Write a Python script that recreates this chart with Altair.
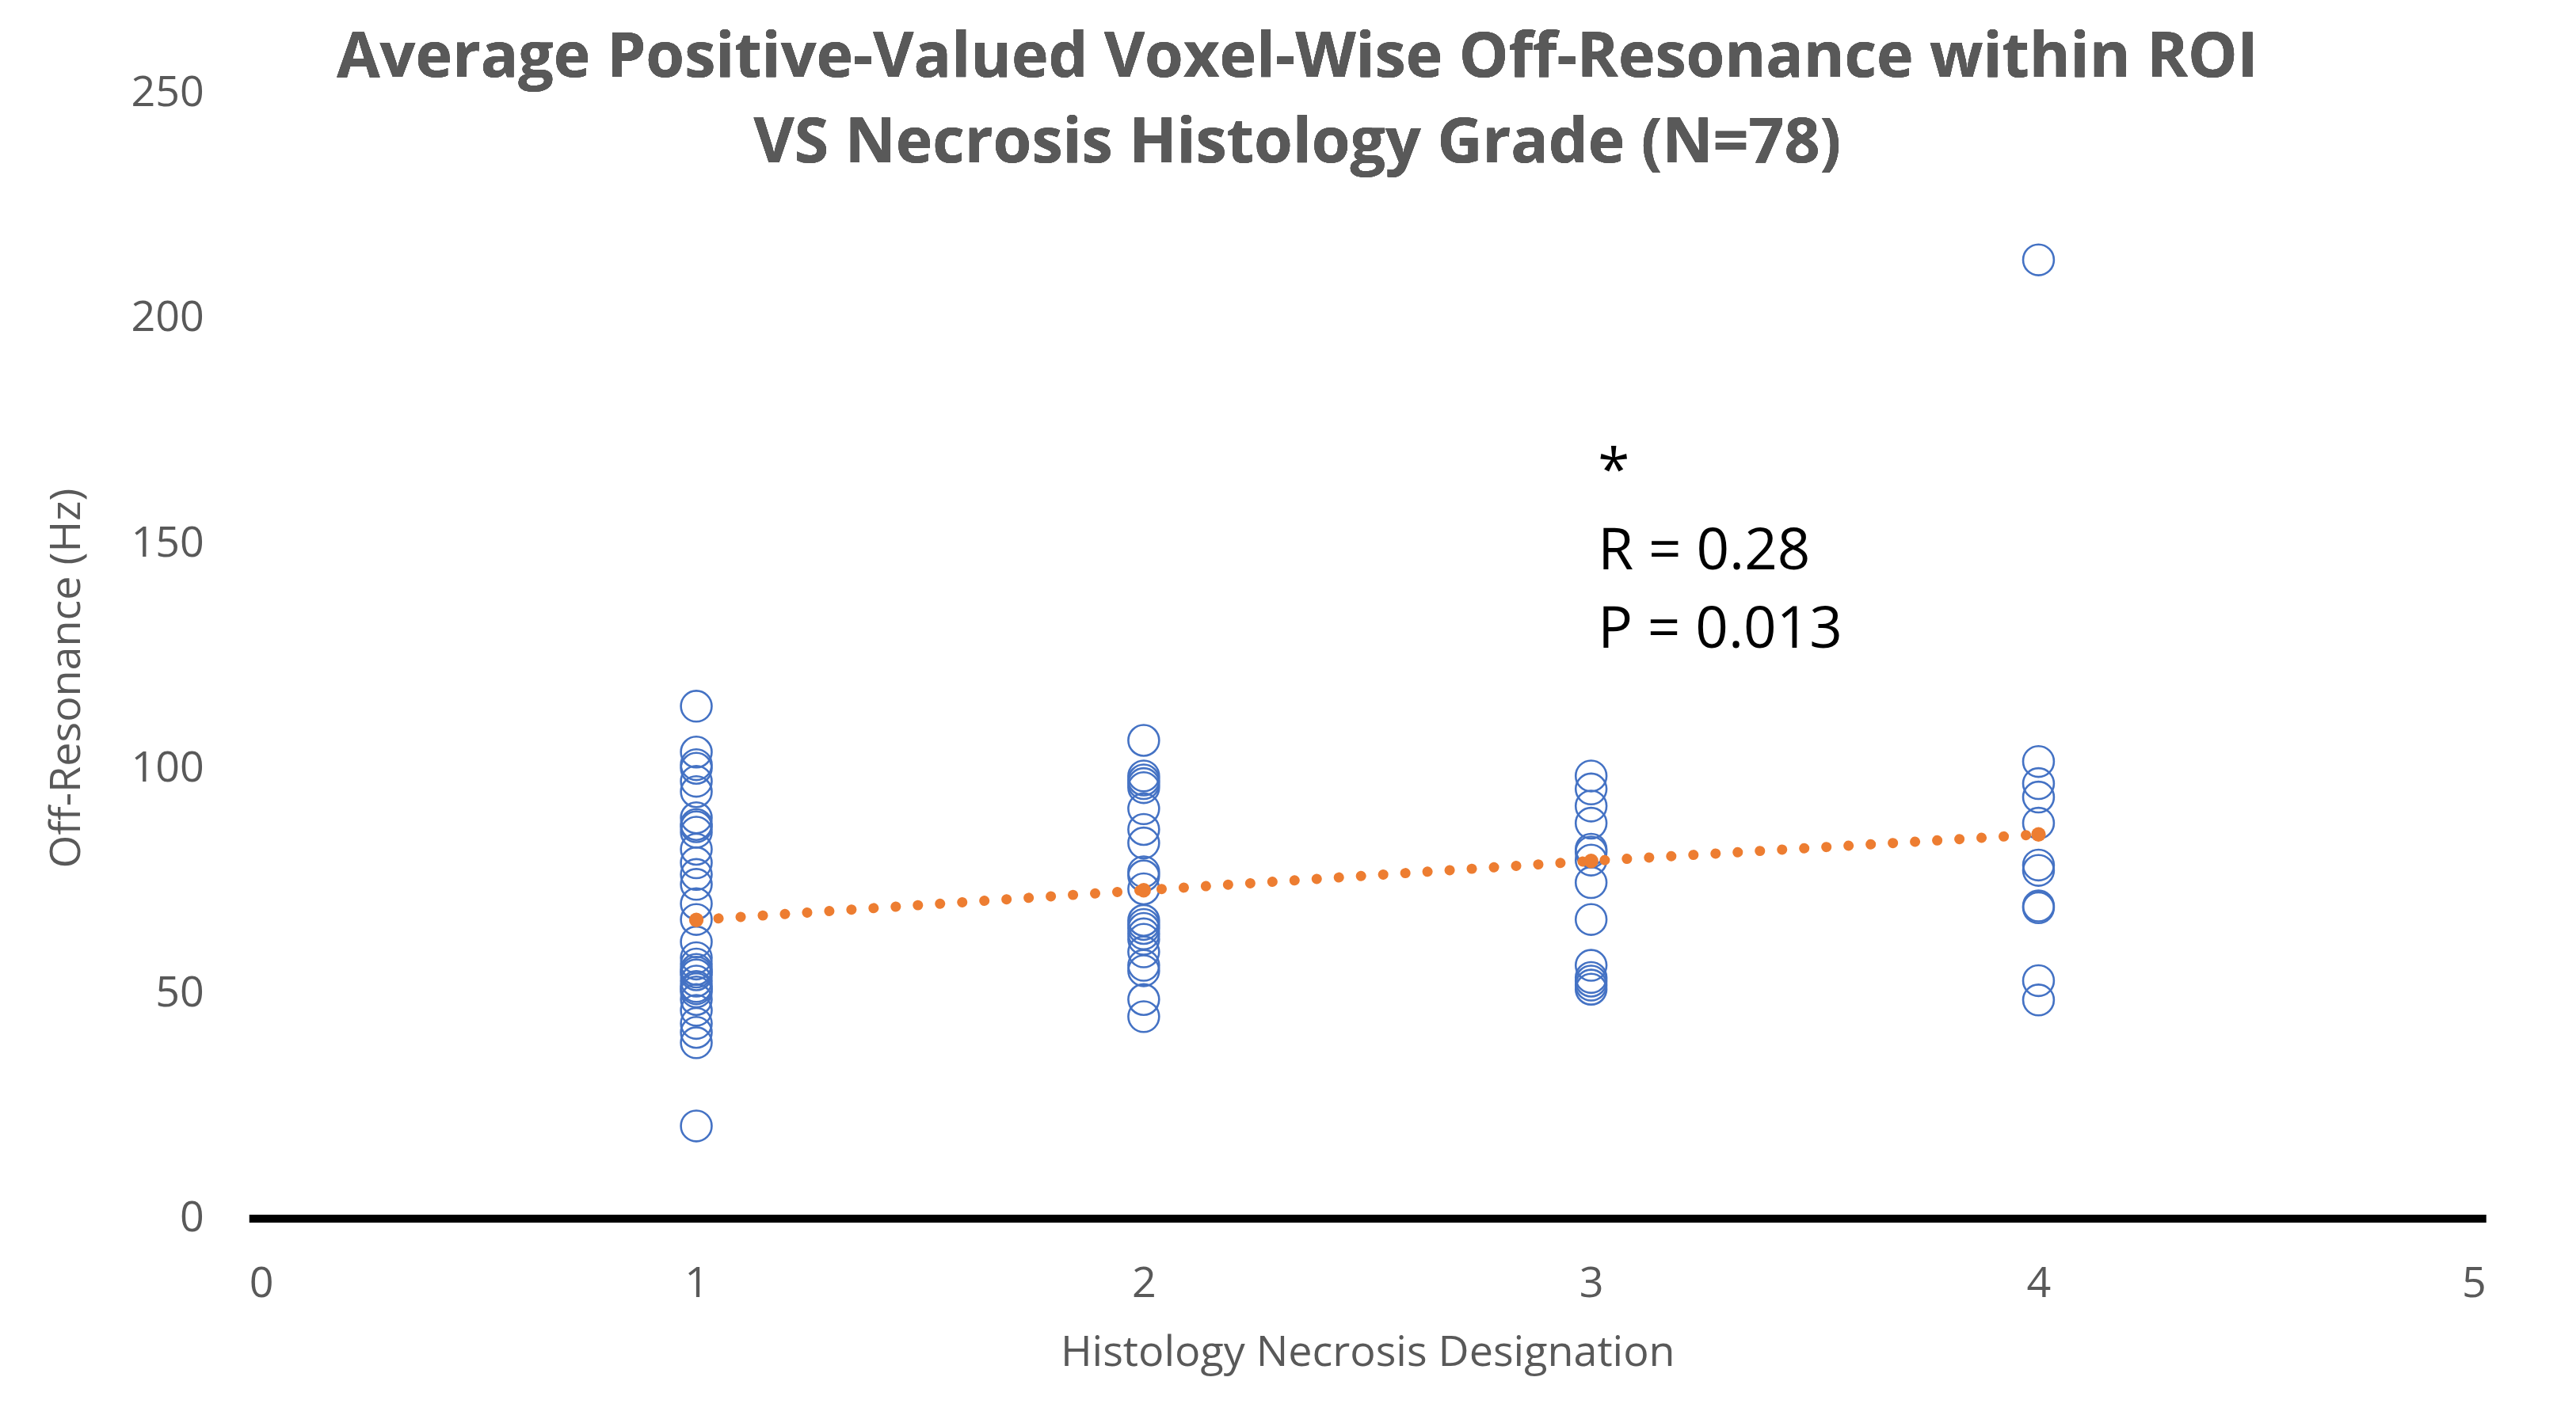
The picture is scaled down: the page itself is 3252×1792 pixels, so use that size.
import altair as alt
import pandas as pd

# ---- data ----
grade1 = [113.8, 103.6, 100.8, 100.0, 97.1, 94.8, 89.0, 87.5, 87.0, 85.8, 82.0, 79.0, 76.4,
          74.2, 69.9, 66.4, 61.4, 57.9, 56.5, 55.3, 54.7, 54.1, 52.7, 51.5, 51.0, 50.3,
          48.6, 46.2, 43.3, 41.3, 39.0, 20.5]
grade2 = [106.2, 98.3, 97.4, 96.6, 95.7, 91.0, 86.4, 83.4, 77.0, 76.1, 73.2, 66.2, 65.3,
          64.4, 63.2, 62.0, 59.2, 56.2, 55.0, 48.6, 44.8]
grade3 = [98.3, 95.4, 91.6, 87.8, 82.0, 81.4, 79.6, 74.6, 66.4, 56.2, 53.5, 52.7, 51.8, 50.9]
grade4 = [213.0, 101.5, 96.6, 93.6, 87.8, 78.5, 77.3, 69.4, 69.0, 52.8, 48.5]

trend_x = [1, 2, 3, 4]
trend_y = [66.3, 72.9, 79.4, 85.3]

ann_x = [3.015, 3.015, 3.015]
ann_y = [161.9, 144.3, 126.8]
ann_text = ["*", "R = 0.28", "P = 0.013"]

x_ticks = [0, 1, 2, 3, 4, 5]
y_ticks = [0, 50, 100, 150, 200, 250]

title_line1 = "Average Positive-Valued Voxel-Wise Off-Resonance within ROI"
title_line2 = "VS Necrosis Histology Grade (N=78)"

# ---- tables ----
rows = []
for g, vals in zip([1, 2, 3, 4], [grade1, grade2, grade3, grade4]):
    for v in vals:
        rows.append({"grade": g, "value": v})
pts = pd.DataFrame(rows)
trend = pd.DataFrame({"grade": trend_x, "value": trend_y})
ann = pd.DataFrame({"grade": ann_x, "value": ann_y, "label": ann_text})

FONT = "Open Sans"
GREY = "#595959"

xscale = alt.Scale(domain=[0, 5], nice=False, zero=False)
yscale = alt.Scale(domain=[0, 250], nice=False)

xaxis = alt.Axis(values=x_ticks, format="d", ticks=False, grid=False,
                 domain=True, domainColor="black", domainWidth=10, domainCap="butt",
                 labelFontSize=54, labelFont=FONT, labelColor=GREY, labelPadding=56,
                 title="Histology Necrosis Designation", titleFont=FONT,
                 titleFontSize=54, titleFontWeight="normal", titleColor=GREY,
                 titleY=187, titleBaseline="alphabetic")
yaxis = alt.Axis(values=y_ticks, format="d", ticks=False, grid=False, domain=False,
                 labelFontSize=54, labelFont=FONT, labelColor=GREY, labelPadding=57,
                 title="Off-Resonance (Hz)", titleFont=FONT, titleFontSize=54,
                 titleFontWeight="normal", titleColor=GREY, titleAngle=270,
                 titleX=-214, titleY=740, titleAlign="center",
                 titleBaseline="alphabetic")

points = alt.Chart(pts).mark_point(
    shape="circle", filled=False, size=1520, strokeWidth=2.6, color="#4472C4", opacity=1
).encode(
    x=alt.X("grade:Q", scale=xscale, axis=xaxis),
    y=alt.Y("value:Q", scale=yscale, axis=yaxis),
)

trend_line = alt.Chart(trend).mark_line(
    color="#ED7D31", strokeWidth=13, strokeDash=[0.1, 28], strokeCap="round"
).encode(x=alt.X("grade:Q", scale=xscale), y=alt.Y("value:Q", scale=yscale))

trend_pts = alt.Chart(trend).mark_point(
    shape="circle", filled=True, size=340, color="#ED7D31", opacity=1
).encode(x=alt.X("grade:Q", scale=xscale), y=alt.Y("value:Q", scale=yscale))

annot = alt.Chart(ann).mark_text(
    font=FONT, fontSize=73, color="black", align="left", baseline="alphabetic"
).encode(x=alt.X("grade:Q", scale=xscale), y=alt.Y("value:Q", scale=yscale),
         text="label:N")

title_style = dict(font=FONT, fontSize=79, fontWeight="bold", color=GREY,
                   align="center", baseline="alphabetic")
title1 = alt.Chart(trend).mark_text(**title_style).encode(
    x=alt.value(1327), y=alt.value(-21), text=alt.value(title_line1))
title2 = alt.Chart(trend).mark_text(**title_style).encode(
    x=alt.value(1327), y=alt.value(87), text=alt.value(title_line2))

chart = alt.layer(points, trend_line, trend_pts, annot, title1, title2).properties(
    width=2831, height=1424,
    background="white",
    autosize=alt.AutoSizeParams(type="none"),
    padding={"left": 307, "top": 108, "right": 106, "bottom": 252},
).configure_view(strokeWidth=0, stroke=None)

chart.save("out.html", embed_options={"renderer": "svg", "actions": False})
